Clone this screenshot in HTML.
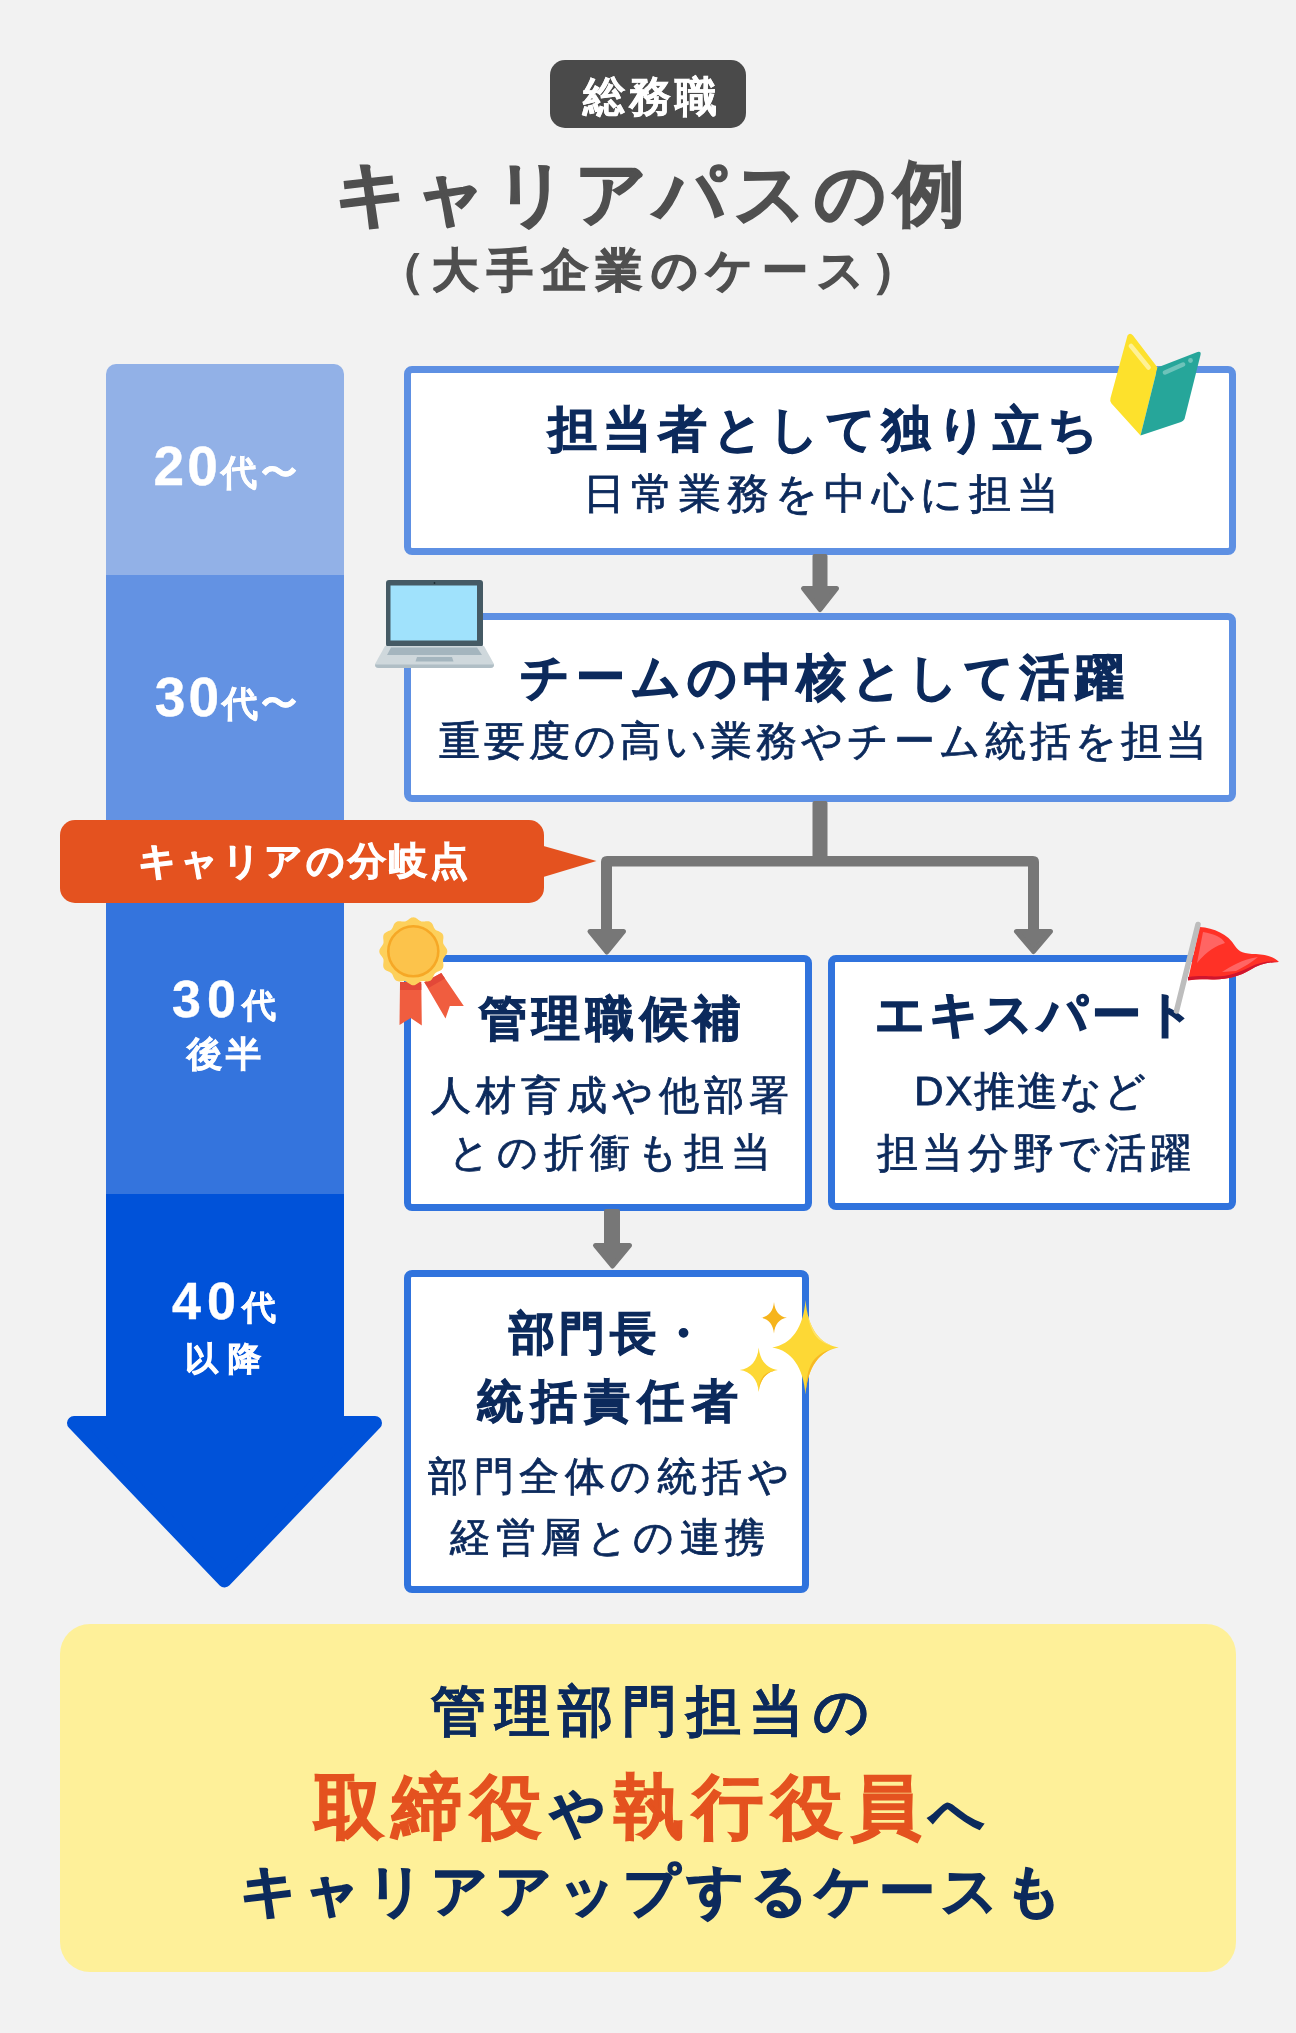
<!DOCTYPE html>
<html lang="ja">
<head>
<meta charset="utf-8">
<style>
html,body{margin:0;padding:0;}
body{width:1296px;height:2033px;background:#f2f2f2;position:relative;overflow:hidden;font-family:"Liberation Sans",sans-serif;}
.a{position:absolute;}
.t{position:absolute;white-space:nowrap;text-align:center;line-height:1;will-change:transform;}
.box{position:absolute;box-sizing:border-box;background:#fff;border-radius:8px;}
.b1{border:7.8px solid #5e90e3;}
.b2{border:7.8px solid #3073dd;}
</style>
</head>
<body>
<!-- badge -->
<div class="a" style="left:550px;top:60px;width:196px;height:68px;border-radius:15px;background:#4a4a4a;"></div>

<!-- left bar -->
<div class="a" style="left:106px;top:364px;width:238px;height:211px;background:#92b1e7;border-radius:10px 10px 0 0;"></div>
<div class="a" style="left:106px;top:575px;width:238px;height:286px;background:#6392e3;"></div>
<div class="a" style="left:106px;top:861px;width:238px;height:333px;background:#3474dd;"></div>
<div class="a" style="left:106px;top:1194px;width:238px;height:230px;background:#0052d9;"></div>
<svg class="a" style="left:0;top:0" width="1296" height="2033">
  <path d="M74 1423 L375 1423 L224.5 1580.5 Z" fill="#0052d9" stroke="#0052d9" stroke-width="14" stroke-linejoin="round"/>
</svg>

<!-- boxes -->
<div class="box b1" style="left:404px;top:366px;width:832px;height:189px;"></div>
<div class="box b1" style="left:404px;top:613px;width:832px;height:189px;"></div>
<div class="box b2" style="left:404px;top:955px;width:408px;height:256px;"></div>
<div class="box b2" style="left:828px;top:955px;width:408px;height:255px;"></div>
<div class="box b2" style="left:404px;top:1270px;width:405px;height:323px;"></div>

<!-- gray arrows -->
<svg class="a" style="left:0;top:0" width="1296" height="2033">
  <g fill="#777">
    <rect x="812.5" y="554" width="15" height="36" rx="2"/>
    <path d="M803.5 588.5 L836.5 588.5 L820 609.5 Z" stroke="#777" stroke-width="5" stroke-linejoin="round"/>
    <rect x="812.5" y="801" width="15" height="60" rx="2"/>
    <path d="M607 856 L1033 856 Q1039 856 1039 862 L1039 935 L1028 935 L1028 866.5 L612 866.5 L612 935 L601 935 L601 862 Q601 856 607 856 Z"/>
    <path d="M590 931.5 L623.5 931.5 L606.8 952 Z" stroke="#777" stroke-width="5" stroke-linejoin="round"/>
    <path d="M1016.5 931.5 L1050.5 931.5 L1033.5 951.5 Z" stroke="#777" stroke-width="5" stroke-linejoin="round"/>
    <rect x="604" y="1209" width="16" height="38" rx="2"/>
    <path d="M595.5 1245.5 L629.5 1245.5 L612.5 1266 Z" stroke="#777" stroke-width="5" stroke-linejoin="round"/>
  </g>
</svg>

<!-- orange label -->
<svg class="a" style="left:0;top:0" width="1296" height="2033">
  <rect x="60" y="820" width="484" height="83" rx="15" fill="#e4521f"/>
  <path d="M540 845 L596.5 861 L540 878 Z" fill="#e4521f"/>
</svg>

<!-- yellow box -->
<div class="a" style="left:60px;top:1624px;width:1176px;height:348px;border-radius:30px;background:#fef099;"></div>


<div class="t" id="t_badge" style="left:552.00px;top:76.00px;width:196px;font-size:42.38px;letter-spacing:4.40px;text-indent:4.40px;font-weight:bold;color:#fff;-webkit-text-stroke:0.5px #fff;">総務職</div>
<div class="t" id="t_title" style="left:2.00px;top:157.50px;width:1296px;font-size:71.23px;letter-spacing:6.86px;text-indent:6.86px;font-weight:bold;color:#4f4f4f;-webkit-text-stroke:1.5px #4f4f4f;">キャリアパスの例</div>
<div class="t" id="t_sub" style="left:0.00px;top:248.00px;width:1296px;font-size:45.70px;letter-spacing:8.61px;text-indent:8.61px;font-weight:bold;color:#4f4f4f;-webkit-text-stroke:1.3px #4f4f4f;">（大手企業のケース）</div>
<div class="t" id="t_20" style="left:106.00px;top:439.00px;width:238px;font-size:55.00px;letter-spacing:3.35px;text-indent:3.35px;font-weight:bold;color:#fff;-webkit-text-stroke:0.4px #fff;">20<span style="font-size:0.66em">代〜</span></div>
<div class="t" id="t_30" style="left:106.50px;top:670.00px;width:238px;font-size:55.00px;letter-spacing:3.03px;text-indent:3.03px;font-weight:bold;color:#fff;-webkit-text-stroke:0.4px #fff;">30<span style="font-size:0.66em">代〜</span></div>
<div class="t" id="t_30b" style="left:104.50px;top:972.50px;width:238px;font-size:52.01px;letter-spacing:6.13px;text-indent:6.13px;font-weight:bold;color:#fff;-webkit-text-stroke:0.4px #fff;">30<span style="font-size:0.66em">代</span></div>
<div class="t" id="t_30c" style="left:105.00px;top:1037.00px;width:238px;font-size:34.70px;letter-spacing:4.57px;text-indent:4.57px;font-weight:bold;color:#fff;-webkit-text-stroke:0.8px #fff;">後半</div>
<div class="t" id="t_40" style="left:104.50px;top:1274.50px;width:238px;font-size:52.01px;letter-spacing:6.13px;text-indent:6.13px;font-weight:bold;color:#fff;-webkit-text-stroke:0.4px #fff;">40<span style="font-size:0.66em">代</span></div>
<div class="t" id="t_40c" style="left:103.50px;top:1342.00px;width:238px;font-size:33.10px;letter-spacing:10.37px;text-indent:10.37px;font-weight:bold;color:#fff;-webkit-text-stroke:0.8px #fff;">以降</div>
<div class="t" id="t_label" style="left:60.50px;top:843.00px;width:484px;font-size:37.50px;letter-spacing:3.04px;text-indent:3.04px;font-weight:bold;color:#fff;-webkit-text-stroke:1.0px #fff;">キャリアの分岐点</div>
<div class="t" id="t_b1a" style="left:406.50px;top:405.00px;width:832px;font-size:48.50px;letter-spacing:6.11px;text-indent:6.11px;font-weight:bold;color:#0c2a5c;-webkit-text-stroke:1.0px #0c2a5c;">担当者として独り立ち</div>
<div class="t" id="t_b1b" style="left:405.00px;top:473.00px;width:832px;font-size:41.50px;letter-spacing:5.90px;text-indent:5.90px;font-weight:normal;color:#0c2a5c;-webkit-text-stroke:0.8px #0c2a5c;">日常業務を中心に担当</div>
<div class="t" id="t_b2a" style="left:405.50px;top:653.00px;width:832px;font-size:49.00px;letter-spacing:5.92px;text-indent:5.92px;font-weight:bold;color:#0c2a5c;-webkit-text-stroke:1.3px #0c2a5c;">チームの中核として活躍</div>
<div class="t" id="t_b2b" style="left:407.00px;top:720.50px;width:832px;font-size:40.50px;letter-spacing:4.01px;text-indent:4.01px;font-weight:normal;color:#0c2a5c;-webkit-text-stroke:0.8px #0c2a5c;">重要度の高い業務やチーム統括を担当</div>
<div class="t" id="t_b3a" style="left:406.00px;top:994.50px;width:408px;font-size:47.93px;letter-spacing:5.57px;text-indent:5.57px;font-weight:bold;color:#0c2a5c;-webkit-text-stroke:1.0px #0c2a5c;">管理職候補</div>
<div class="t" id="t_b3b" style="left:405.50px;top:1074.50px;width:408px;font-size:40.00px;letter-spacing:5.42px;text-indent:5.42px;font-weight:normal;color:#0c2a5c;-webkit-text-stroke:0.8px #0c2a5c;">人材育成や他部署</div>
<div class="t" id="t_b3c" style="left:405.50px;top:1131.50px;width:408px;font-size:40.00px;letter-spacing:6.45px;text-indent:6.45px;font-weight:normal;color:#0c2a5c;-webkit-text-stroke:0.8px #0c2a5c;">との折衝も担当</div>
<div class="t" id="t_b4a" style="left:831.00px;top:990.00px;width:408px;font-size:49.00px;letter-spacing:4.12px;text-indent:4.12px;font-weight:bold;color:#0c2a5c;-webkit-text-stroke:1.4px #0c2a5c;">エキスパート</div>
<div class="t" id="t_b4b" style="left:826.00px;top:1070.50px;width:408px;font-size:40.50px;letter-spacing:1.83px;text-indent:1.83px;font-weight:normal;color:#0c2a5c;-webkit-text-stroke:0.8px #0c2a5c;">DX推進など</div>
<div class="t" id="t_b4c" style="left:829.50px;top:1133.00px;width:408px;font-size:40.50px;letter-spacing:4.43px;text-indent:4.43px;font-weight:normal;color:#0c2a5c;-webkit-text-stroke:0.8px #0c2a5c;">担当分野で活躍</div>
<div class="t" id="t_b5a" style="left:404.50px;top:1311.00px;width:405px;font-size:45.51px;letter-spacing:4.11px;text-indent:4.11px;font-weight:bold;color:#0c2a5c;-webkit-text-stroke:1.0px #0c2a5c;">部門長・</div>
<div class="t" id="t_b5b" style="left:404.50px;top:1379.00px;width:405px;font-size:45.72px;letter-spacing:7.51px;text-indent:7.51px;font-weight:bold;color:#0c2a5c;-webkit-text-stroke:1.0px #0c2a5c;">統括責任者</div>
<div class="t" id="t_b5c" style="left:406.00px;top:1456.00px;width:405px;font-size:40.00px;letter-spacing:5.46px;text-indent:5.46px;font-weight:normal;color:#0c2a5c;-webkit-text-stroke:0.8px #0c2a5c;">部門全体の統括や</div>
<div class="t" id="t_b5d" style="left:405.00px;top:1517.00px;width:405px;font-size:40.00px;letter-spacing:5.50px;text-indent:5.50px;font-weight:normal;color:#0c2a5c;-webkit-text-stroke:0.8px #0c2a5c;">経営層との連携</div>
<div class="t" id="t_y1" style="left:61.50px;top:1685.00px;width:1176px;font-size:54.50px;letter-spacing:8.54px;text-indent:8.54px;font-weight:bold;color:#0c2a5c;-webkit-text-stroke:0.3px #0c2a5c;">管理部門担当の</div>
<div class="t" id="t_y2" style="left:61.00px;top:1772.50px;width:1176px;font-size:69.50px;letter-spacing:8.84px;text-indent:8.84px;font-weight:bold;color:#0c2a5c;-webkit-text-stroke:1.4px #0c2a5c;"><span style="color:#e4521f;-webkit-text-stroke-color:#e4521f">取締役</span><span style="font-size:0.78em">や</span><span style="color:#e4521f;-webkit-text-stroke-color:#e4521f">執行役員</span><span style="font-size:0.78em">へ</span></div>
<div class="t" id="t_y3" style="left:62.50px;top:1862.50px;width:1176px;font-size:56.00px;letter-spacing:6.88px;text-indent:6.88px;font-weight:bold;color:#0c2a5c;-webkit-text-stroke:1.5px #0c2a5c;">キャリアアップするケースも</div>
<svg class="a" style="left:0;top:0" width="1296" height="2033">
  <!-- beginner mark (book) -->
  <g>
    <path d="M1127.5 335.5 Q1130 332 1133 335.5 L1157.5 367.5 L1140.5 435.5 L1111.5 403.5 Q1109.5 401 1110.5 398 Z" fill="#fde12c"/>
    <path d="M1157.5 367.5 L1197.5 352 Q1201.5 351 1200.5 355 L1184.5 419 Q1183.5 421 1181 422 L1140.5 435.5 Z" fill="#26a69a"/>
    <path d="M1131 346 L1148.5 367.5" stroke="#fff6b0" stroke-width="4.5" stroke-linecap="round" opacity="0.8"/>
    <path d="M1165 372.5 L1183 364.5" stroke="#7fcbc2" stroke-width="4.5" stroke-linecap="round" opacity="0.8"/>
    <circle cx="1190.5" cy="360.5" r="2.4" fill="#7fcbc2" opacity="0.8"/>
  </g>
  <!-- laptop -->
  <g>
    <rect x="386" y="580" width="97" height="67" rx="3" fill="#455a64"/>
    <rect x="390.5" y="585.5" width="86.5" height="55" fill="#a0e2fc"/>
    <circle cx="434.5" cy="583" r="0.9" fill="#1c2b33"/>
    <path d="M385 646 L484 646 L494 664 Q494.5 668 490 668 L379 668 Q374.5 668 375 664 Z" fill="#cfd8dc"/>
    <path d="M391 647.5 L477 647.5 L482 655 L387 655 Z" fill="#a4b5be"/>
    <path d="M417 657 L452 657 L453.5 661.5 L415.5 661.5 Z" fill="#a4b5be"/>
    <path d="M375 664.5 L494 664.5 Q494 668 490 668 L379 668 Q375 668 375 664.5 Z" fill="#b0bec5"/>
  </g>
  <!-- medal -->
  <g>
    <path d="M424.3 982.2 L441.3 972.9 L463.8 1006 L449.8 1006 L445.5 1018.5 Z" fill="#f05d3f"/>
    <path d="M400 984 L421.3 984 L421.8 1025.5 L410.7 1018 L399.5 1025 Z" fill="#f05d3f"/>
    <path d="M400 982 L421.3 982 L421.3 990 L400 990 Z" fill="#e34838"/>
    <path d="M424.3 982.2 L441.3 972.9 L445 978.5 L428.5 988 Z" fill="#e34838"/>
    <path fill="#fdd05b" d="M447.3 951.3 L447.2 952.2 L447.0 953.1 L446.6 953.9 L446.1 954.7 L445.5 955.5 L444.9 956.3 L444.4 957.1 L443.9 957.8 L443.5 958.6 L443.2 959.3 L443.1 960.1 L443.1 961.0 L443.1 961.9 L443.2 962.8 L443.3 963.7 L443.4 964.7 L443.4 965.7 L443.3 966.6 L443.1 967.5 L442.7 968.3 L442.2 969.0 L441.6 969.7 L440.8 970.2 L440.0 970.7 L439.1 971.1 L438.2 971.5 L437.3 971.8 L436.6 972.2 L435.8 972.7 L435.2 973.2 L434.7 973.8 L434.2 974.6 L433.8 975.3 L433.5 976.2 L433.1 977.1 L432.7 978.0 L432.2 978.8 L431.7 979.6 L431.0 980.2 L430.3 980.7 L429.5 981.1 L428.6 981.3 L427.7 981.4 L426.7 981.4 L425.7 981.3 L424.8 981.2 L423.9 981.1 L423.0 981.1 L422.1 981.1 L421.3 981.2 L420.6 981.5 L419.8 981.9 L419.1 982.4 L418.3 982.9 L417.5 983.5 L416.7 984.1 L415.9 984.6 L415.1 985.0 L414.2 985.2 L413.3 985.3 L412.4 985.2 L411.5 985.0 L410.7 984.6 L409.9 984.1 L409.1 983.5 L408.3 982.9 L407.5 982.4 L406.8 981.9 L406.0 981.5 L405.3 981.2 L404.5 981.1 L403.6 981.1 L402.7 981.1 L401.8 981.2 L400.9 981.3 L399.9 981.4 L398.9 981.4 L398.0 981.3 L397.1 981.1 L396.3 980.7 L395.6 980.2 L394.9 979.6 L394.4 978.8 L393.9 978.0 L393.5 977.1 L393.1 976.2 L392.8 975.3 L392.4 974.6 L391.9 973.8 L391.4 973.2 L390.8 972.7 L390.0 972.2 L389.3 971.8 L388.4 971.5 L387.5 971.1 L386.6 970.7 L385.8 970.2 L385.0 969.7 L384.4 969.0 L383.9 968.3 L383.5 967.5 L383.3 966.6 L383.2 965.7 L383.2 964.7 L383.3 963.7 L383.4 962.8 L383.5 961.9 L383.5 961.0 L383.5 960.1 L383.4 959.3 L383.1 958.6 L382.7 957.8 L382.2 957.1 L381.7 956.3 L381.1 955.5 L380.5 954.7 L380.0 953.9 L379.6 953.1 L379.4 952.2 L379.3 951.3 L379.4 950.4 L379.6 949.5 L380.0 948.7 L380.5 947.9 L381.1 947.1 L381.7 946.3 L382.2 945.5 L382.7 944.8 L383.1 944.0 L383.4 943.3 L383.5 942.5 L383.5 941.6 L383.5 940.7 L383.4 939.8 L383.3 938.9 L383.2 937.9 L383.2 936.9 L383.3 936.0 L383.5 935.1 L383.9 934.3 L384.4 933.6 L385.0 932.9 L385.8 932.4 L386.6 931.9 L387.5 931.5 L388.4 931.1 L389.3 930.8 L390.0 930.4 L390.8 929.9 L391.4 929.4 L391.9 928.8 L392.4 928.0 L392.8 927.3 L393.1 926.4 L393.5 925.5 L393.9 924.6 L394.4 923.8 L394.9 923.0 L395.6 922.4 L396.3 921.9 L397.1 921.5 L398.0 921.3 L398.9 921.2 L399.9 921.2 L400.9 921.3 L401.8 921.4 L402.7 921.5 L403.6 921.5 L404.5 921.5 L405.3 921.4 L406.0 921.1 L406.8 920.7 L407.5 920.2 L408.3 919.7 L409.1 919.1 L409.9 918.5 L410.7 918.0 L411.5 917.6 L412.4 917.4 L413.3 917.3 L414.2 917.4 L415.1 917.6 L415.9 918.0 L416.7 918.5 L417.5 919.1 L418.3 919.7 L419.1 920.2 L419.8 920.7 L420.6 921.1 L421.3 921.4 L422.1 921.5 L423.0 921.5 L423.9 921.5 L424.8 921.4 L425.7 921.3 L426.7 921.2 L427.7 921.2 L428.6 921.3 L429.5 921.5 L430.3 921.9 L431.0 922.4 L431.7 923.0 L432.2 923.8 L432.7 924.6 L433.1 925.5 L433.5 926.4 L433.8 927.3 L434.2 928.0 L434.7 928.8 L435.2 929.4 L435.8 929.9 L436.6 930.4 L437.3 930.8 L438.2 931.1 L439.1 931.5 L440.0 931.9 L440.8 932.4 L441.6 932.9 L442.2 933.6 L442.7 934.3 L443.1 935.1 L443.3 936.0 L443.4 936.9 L443.4 937.9 L443.3 938.9 L443.2 939.8 L443.1 940.7 L443.1 941.6 L443.1 942.5 L443.2 943.3 L443.5 944.0 L443.9 944.8 L444.4 945.5 L444.9 946.3 L445.5 947.1 L446.1 947.9 L446.6 948.7 L447.0 949.5 L447.2 950.4 L447.3 951.3 Z"/>
    <circle cx="413.3" cy="951.3" r="25" fill="#fcc34b" stroke="#f6a826" stroke-width="2.6"/>
  </g>
  <!-- flag -->
  <g>
    <path d="M1199.5 927 C1214 928 1228 934 1235 946 C1239 952 1244 954 1256 954 C1266 954.5 1274 957 1279 962 C1268 962 1259 964.5 1250 970 C1240 976 1226 980 1212 979.5 C1204 979 1196 979 1188 980 Z" fill="#ff3126"/>
    <path d="M1188 977 C1198 975.5 1208 976 1214 976.5 C1228 977 1240 972 1250 967 C1260 962 1270 960.5 1279 962 C1268 962 1259 964.5 1250 970 C1240 976 1226 980 1212 979.5 C1204 979 1196 979 1188 980.5 Z" fill="#d0152e"/>
    <path d="M1203 932 C1214 934 1222 937 1225 943 C1216 946 1208 950 1197 963 Z" fill="#ff6e6e" opacity="0.85"/>
    <path d="M1222 972 C1232 966 1240 960 1258 957 C1252 962 1244 967 1236 971 Z" fill="#ff6e6e" opacity="0.85"/>
    <path d="M1198 924.5 L1176.5 1011" stroke="#bdbdbd" stroke-width="5.5" stroke-linecap="round"/>
  </g>
  <!-- sparkles -->
  <g>
    <path d="M805.5 1300.0 C807.5 1327.5 819.5 1344.6 838.8 1347.4 C819.5 1350.2 807.5 1367.2 805.5 1394.6 C803.5 1367.2 791.5 1350.2 772.2 1347.4 C791.5 1344.6 803.5 1327.5 805.5 1300.0 Z" fill="#fdd835"/>
    <path d="M838.8 1347.4 C819.5 1350.2 807.5 1367.3 805.5 1394.6 C806.5 1366 812 1352 838.8 1347.4 Z" fill="#f7b924"/>
    <path d="M805.5 1300 C807.5 1327.5 819.5 1344.6 838.8 1347.4 C815 1343 809 1333 805.5 1300 Z" fill="#ffe36b"/>
    <path d="M774.0 1302.1 C774.8 1311.2 779.5 1316.9 787.0 1317.8 C779.5 1318.7 774.8 1324.4 774.0 1333.5 C773.2 1324.4 768.5 1318.7 761.0 1317.8 C768.5 1316.9 773.2 1311.2 774.0 1302.1 Z" fill="#f6b41c"/>
    <path d="M758.7 1347.4 C759.9 1360.5 766.8 1368.6 777.9 1370.0 C766.8 1371.3 759.9 1379.2 758.7 1392.0 C757.6 1379.2 750.7 1371.3 739.7 1370.0 C750.7 1368.6 757.6 1360.5 758.7 1347.4 Z" fill="#fdd835"/>
    <path d="M777.9 1370 C766.8 1371.3 759.8 1379.2 758.7 1392 C759.5 1378 763 1372 777.9 1370 Z" fill="#f7b924"/>
  </g>
</svg>
</body>
</html>
